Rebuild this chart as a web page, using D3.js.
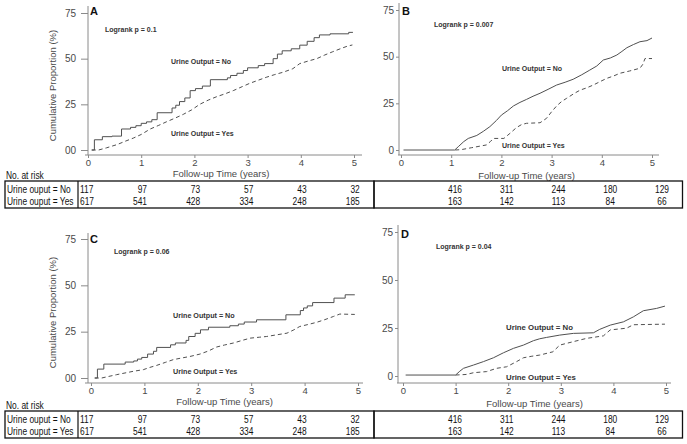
<!DOCTYPE html>
<html><head><meta charset="utf-8">
<script src="https://cdn.jsdelivr.net/npm/d3@7"></script>
<style>
html,body{margin:0;padding:0;background:#fff;}
svg{display:block;font-family:"Liberation Sans",Arial,sans-serif;}
</style></head>
<body><svg id="c" width="687" height="444"></svg>
<script>
// ---------- DATA ----------
const timeTicks = [0, 1, 2, 3, 4, 5];
const yTicks = [0, 25, 50, 75];
const yTickLabelsAC = ["00", "25", "50", "75"];
const yTickLabelsBD = ["0", "25", "50", "75"];
const panelLabels = ["A", "B", "C", "D"];
const logrankTexts = ["Logrank p = 0.1", "Logrank p = 0.007", "Logrank p = 0.06", "Logrank p = 0.04"];
const seriesNames = ["Urine Output = No", "Urine Output = Yes"];

// [time (years), cumulative proportion (%)]
const panelA_no = [[0.07,0],[0.12,5.6],[0.27,7.3],[0.45,7.6],[0.63,11.5],[0.8,12.4],[0.9,13.3],[1.0,14.6],[1.1,15.4],[1.2,16.6],[1.3,20.4],[1.58,23],[1.65,24.5],[1.72,26.5],[1.82,28.5],[1.92,32.5],[2.02,33.6],[2.15,35],[2.3,38.5],[2.62,39.5],[2.68,40.8],[2.8,42],[2.92,43.5],[3.0,45],[3.2,46.2],[3.32,47.3],[3.48,50],[3.56,52.5],[3.65,54.3],[3.82,55.4],[3.98,57.4],[4.12,59.5],[4.25,61.5],[4.35,63],[4.55,63.6],[4.9,64.4],[4.98,64.4]];
const panelA_yes = [[0.07,0],[0.2,0],[0.35,1.2],[0.55,3],[0.7,4.8],[0.85,6.5],[1.0,8.5],[1.17,11.5],[1.33,13.5],[1.48,15.5],[1.64,17.5],[1.79,19.5],[1.95,22],[2.1,25],[2.26,27.3],[2.42,29.2],[2.58,30.8],[2.73,32.5],[2.9,34.7],[3.04,36.5],[3.2,38.2],[3.35,39.8],[3.5,41.2],[3.67,42.6],[3.85,44.5],[3.98,47.3],[4.15,48.8],[4.3,50],[4.45,52],[4.6,53.8],[4.75,55.5],[4.88,56.9],[4.97,57.5]];
const panelB_no = [[0.05,0],[1.07,0],[1.15,2],[1.25,4.5],[1.34,6.2],[1.51,7.8],[1.64,10],[1.77,12.5],[1.9,15.8],[2.0,18.7],[2.12,21],[2.24,23.6],[2.37,25.5],[2.5,27.1],[2.63,28.8],[2.77,30.4],[2.93,32.5],[3.1,34.8],[3.27,36.3],[3.43,37.9],[3.6,40.3],[3.76,42.8],[3.9,45],[4.03,48.2],[4.17,49.3],[4.3,50.9],[4.4,52.8],[4.5,54.8],[4.63,56.5],[4.76,58],[4.9,58.6],[5.0,60]];
const panelB_yes = [[1.08,0],[1.2,0.2],[1.4,1.2],[1.6,2.2],[1.7,2.7],[1.78,4.5],[1.84,6.2],[2.05,6.2],[2.17,8.9],[2.3,12],[2.4,13.6],[2.5,14.3],[2.77,14.6],[2.9,17],[3.0,20.5],[3.1,23.6],[3.2,26],[3.3,27.7],[3.45,30.3],[3.57,32.1],[3.7,33.3],[3.83,34.8],[3.97,36.7],[4.1,38.4],[4.23,39.6],[4.36,41.1],[4.55,42.3],[4.76,43.8],[4.82,46],[4.86,49],[5.0,49]];
const panelC_no = [[0.07,0],[0.12,4.8],[0.24,7.5],[0.64,8.6],[0.8,9.2],[0.87,10.2],[0.95,11.1],[1.06,12.9],[1.17,14.4],[1.23,16.5],[1.49,17.9],[1.58,18.9],[1.78,20.3],[1.83,22.4],[1.95,24.1],[2.05,26],[2.2,27.4],[2.6,28.2],[2.76,29.1],[2.87,30.2],[3.1,31.4],[3.65,34.1],[3.92,36.4],[3.98,37.8],[4.05,38.9],[4.15,40.7],[4.55,43.1],[4.76,44.9],[4.94,44.9]];
const panelC_yes = [[0.07,0],[0.2,0],[0.48,1.8],[0.79,3.6],[0.98,4.5],[1.1,5.7],[1.23,6.8],[1.4,8.5],[1.54,9.9],[1.7,10.8],[1.85,11.6],[2.04,12.9],[2.2,14.6],[2.35,16.7],[2.5,17.8],[2.67,18.9],[2.82,20.2],[2.98,21.5],[3.15,22],[3.29,22.4],[3.5,23.4],[3.67,24.2],[3.8,26],[3.91,27.8],[4.07,28.9],[4.22,30],[4.38,31.5],[4.54,33.2],[4.66,34.5],[4.94,34.3]];
const panelD_no = [[0.05,0.5],[1.0,0.5],[1.08,2.5],[1.15,4],[1.34,5.7],[1.53,7.5],[1.72,9.5],[1.91,12.1],[2.1,14.4],[2.29,16.1],[2.48,18.4],[2.6,19.4],[2.73,20.1],[2.98,21.3],[3.24,22.2],[3.62,22.5],[3.74,24.3],[3.94,26.5],[4.19,28.2],[4.38,30.8],[4.57,34],[4.82,35.2],[4.98,36.4]];
const panelD_yes = [[1.0,0.5],[1.2,0.8],[1.34,1.7],[1.59,2.3],[1.78,4],[1.97,4.8],[2.16,7.5],[2.29,9.5],[2.45,10.3],[2.6,10.9],[2.85,12.6],[2.98,16.1],[3.24,17.9],[3.49,19.6],[3.81,20.9],[3.94,24],[4.25,24.9],[4.38,26.7],[4.98,27]];

const riskTitle = "No. at risk";
const riskRowLabels = ["Urine ouput = No", "Urine ouput = Yes"];
const riskLeftNo = [117, 97, 73, 57, 43, 32];
const riskLeftYes = [617, 541, 428, 334, 248, 185];
const riskRightNo = [416, 311, 244, 180, 129];
const riskRightYes = [163, 142, 113, 84, 66];

// ---------- DRAW ----------
const svg = d3.select("#c");
const lineCol = "#505050", axisCol = "#8a8a8a", tickTextCol = "#4a4a4a";

const panels = [
  {lab:0, no:panelA_no, yes:panelA_yes, stepNo:true, yl:yTickLabelsAC, ylab:true,
   x0:88, x5:354, y0:150, y75:13, axY:155, yTop:6, xEnd:362, xStart:85, tickLen:7, tickPad:5,
   lx:90, ly:15, px:105, py:32, nx:171, ny:64, sx:171, sy:136, lblSize:7, ttY:176.5, tkY:166},
  {lab:1, no:panelB_no, yes:panelB_yes, stepNo:false, yl:yTickLabelsBD, ylab:false,
   x0:401, x5:652, y0:150, y75:10, axY:155, yTop:3, xEnd:659, xStart:398, tickLen:3, tickPad:2,
   lx:402, ly:15, px:434, py:27, nx:502, ny:71, sx:502, sy:148, lblSize:7, ttY:178.5, tkY:166},
  {lab:2, no:panelC_no, yes:panelC_yes, stepNo:true, yl:yTickLabelsAC, ylab:true,
   x0:91, x5:358, y0:378, y75:239, axY:383, yTop:233, xEnd:363, xStart:85, tickLen:7, tickPad:5,
   lx:90, ly:243, px:114, py:254, nx:173, ny:318, sx:173, sy:374, lblSize:7.2, ttY:404.5, tkY:394},
  {lab:3, no:panelD_no, yes:panelD_yes, stepNo:false, yl:yTickLabelsBD, ylab:false,
   x0:403, x5:666, y0:376, y75:232, axY:383, yTop:225, xEnd:671, xStart:397, tickLen:3, tickPad:2,
   lx:401, ly:238, px:436, py:249, nx:506, ny:330, sx:506, sy:380, lblSize:7.8, ttY:406.5, tkY:394}
];

panels.forEach(p => {
  const g = svg.append("g");
  const x = d3.scaleLinear().domain([0, 5]).range([p.x0, p.x5]);
  const y = d3.scaleLinear().domain([0, 75]).range([p.y0, p.y75]);
  const yAxisX = p.xStart + (p.tickLen === 7 ? 3 : 1);

  const ya = g.append("g").attr("transform", `translate(${yAxisX},0)`)
    .call(d3.axisLeft(y).tickValues(yTicks).tickFormat((d,i)=>p.yl[i]).tickSize(p.tickLen).tickPadding(p.tickPad));
  ya.select(".domain").remove();
  ya.selectAll("line").attr("stroke", axisCol);
  ya.selectAll("text").attr("fill", tickTextCol).style("font-size","10px").style("font-family","Liberation Sans, Arial, sans-serif");
  g.append("line").attr("x1", yAxisX).attr("x2", yAxisX).attr("y1", p.yTop).attr("y2", p.axY)
    .attr("stroke", axisCol).attr("stroke-width", 1);

  const xa = g.append("g").attr("transform", `translate(0,${p.axY})`)
    .call(d3.axisBottom(x).tickValues(timeTicks).tickFormat(d3.format("d")).tickSize(3).tickPadding(3));
  xa.select(".domain").remove();
  xa.selectAll("line").attr("stroke", axisCol);
  xa.selectAll("text").attr("fill", tickTextCol).style("font-size","9.5px").style("font-family","Liberation Sans, Arial, sans-serif")
    .attr("dy", null).attr("y", p.tkY - p.axY);
  g.append("line").attr("x1", p.xStart).attr("x2", p.xEnd).attr("y1", p.axY).attr("y2", p.axY)
    .attr("stroke", axisCol).attr("stroke-width", 1);

  g.append("text").attr("x", (p.x0 + p.x5) / 2).attr("y", p.ttY).attr("text-anchor", "middle")
    .attr("fill", tickTextCol).style("font-size", "9.5px").text("Follow-up Time (years)");

  if (p.ylab) {
    const cy = (p.y0 + p.y75) / 2 + 4;
    g.append("text").attr("transform", `translate(56,${cy}) rotate(-90)`).attr("text-anchor", "middle")
      .attr("fill", tickTextCol).style("font-size", "9.5px").text("Cumulative Proportion (%)");
  }

  const lineStep = d3.line().x(d => x(d[0])).y(d => y(d[1])).curve(d3.curveStepAfter);
  const lineLin = d3.line().x(d => x(d[0])).y(d => y(d[1])).curve(d3.curveLinear);
  g.append("path").datum(p.yes).attr("d", lineLin)
    .attr("fill", "none").attr("stroke", lineCol).attr("stroke-width", 1).attr("stroke-dasharray", "4,3");
  g.append("path").datum(p.no).attr("d", p.stepNo ? lineStep : lineLin)
    .attr("fill", "none").attr("stroke", lineCol).attr("stroke-width", 1);

  g.append("text").attr("x", p.lx).attr("y", p.ly).style("font-size", "11px").style("font-weight", "bold")
    .attr("fill", "#111").text(panelLabels[p.lab]);
  g.append("text").attr("x", p.px).attr("y", p.py).style("font-size", "7px").style("font-weight", "bold")
    .attr("fill", "#333").text(logrankTexts[p.lab]);
  g.append("text").attr("x", p.nx).attr("y", p.ny).style("font-size", p.lblSize + "px").style("font-weight", "bold")
    .attr("fill", "#333").text(seriesNames[0]);
  g.append("text").attr("x", p.sx).attr("y", p.sy).style("font-size", p.lblSize + "px").style("font-weight", "bold")
    .attr("fill", "#333").text(seriesNames[1]);
});

function ctext(gg, x, y, t, anchor) {
  gg.append("text").attr("transform", `translate(${x},${y}) scale(0.8,1)`)
    .attr("text-anchor", anchor || "start").attr("fill", "#111")
    .style("font-size", "10.5px").text(t);
}
[0, 230].forEach(off => {
  const g = svg.append("g").attr("transform", `translate(0,${off})`);
  ctext(g, 6, 179, riskTitle);
  g.append("rect").attr("x", 5).attr("y", 181).attr("width", 369).attr("height", 27)
    .attr("fill", "none").attr("stroke", "#111").attr("stroke-width", 1.3);
  g.append("rect").attr("x", 374).attr("y", 181).attr("width", 308.5).attr("height", 27)
    .attr("fill", "none").attr("stroke", "#111").attr("stroke-width", 1.3);
  g.append("line").attr("x1", 78).attr("x2", 78).attr("y1", 181).attr("y2", 208).attr("stroke", "#111").attr("stroke-width", 1.2);
  ctext(g, 7, 193, riskRowLabels[0]);
  ctext(g, 7, 205, riskRowLabels[1]);
  const colL = d3.scaleLinear().domain([1, 5]).range([147, 359.8]);
  [riskLeftNo, riskLeftYes].forEach((row, r) => {
    row.forEach((v, i) => {
      if (i === 0) ctext(g, 80, 193 + r * 12, v, "start");
      else ctext(g, colL(i), 193 + r * 12, v, "end");
    });
  });
  const colR = d3.scaleLinear().domain([1, 5]).range([455, 662]);
  [riskRightNo, riskRightYes].forEach((row, r) => {
    row.forEach((v, i) => ctext(g, colR(i + 1), 193 + r * 12, v, "middle"));
  });
});
</script>
</body></html>
